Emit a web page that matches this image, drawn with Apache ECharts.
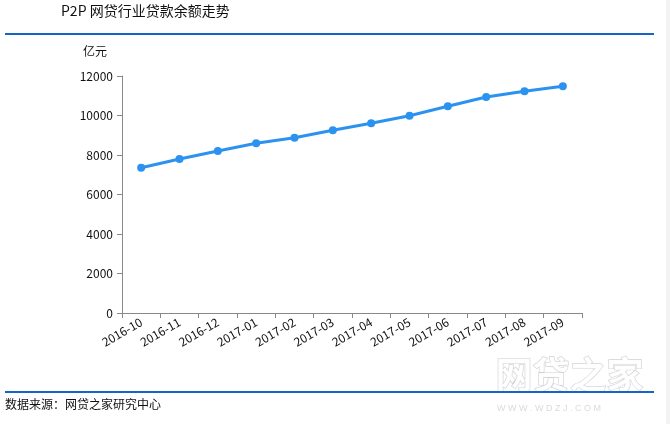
<!DOCTYPE html>
<html><head><meta charset="utf-8">
<script src="https://cdn.jsdelivr.net/npm/echarts@6/dist/echarts.min.js"></script>
<style>html,body{margin:0;padding:0;background:#fff;}#c{width:670px;height:424px;}</style>
</head><body><div id="c"></div>
<script>
var categories = ['2016-10','2016-11','2016-12','2017-01','2017-02','2017-03','2017-04','2017-05','2017-06','2017-07','2017-08','2017-09'];
var balance = [7357, 7797, 8203, 8592, 8876, 9250, 9605, 9990, 10466, 10937, 11225, 11478];
var yTicks = [0, 2000, 4000, 6000, 8000, 10000, 12000];
var titleText = 'P2P 网贷行业贷款余额走势';
var unitText = '亿元';
var sourceText = '数据来源：网贷之家研究中心';

var chart = echarts.init(document.getElementById('c'), null, {renderer:'canvas'});
var font = '"Microsoft YaHei","Noto Sans CJK SC",sans-serif';
chart.setOption({
  animation:false,
  backgroundColor:'#fff',
  grid:{left:122, top:76, width:460, height:237, containLabel:false},
  xAxis:{
    type:'category', data:categories, boundaryGap:true,
    axisLine:{lineStyle:{color:'#888', width:1}},
    axisTick:{show:true, alignWithLabel:false, length:5, lineStyle:{color:'#888'}},
    axisLabel:{rotate:30, color:'#111', fontSize:12, fontFamily:font, margin:8, interval:0}
  },
  yAxis:{
    type:'value', min:yTicks[0], max:yTicks[yTicks.length-1], interval:2000,
    axisLine:{show:true, lineStyle:{color:'#888', width:1}},
    axisTick:{show:true, length:5, lineStyle:{color:'#888'}},
    axisLabel:{color:'#111', fontSize:12, fontFamily:font, margin:9, formatter:function(v){return String(v);}},
    splitLine:{show:false}
  },
  series:[{
    type:'line', data:balance, smooth:false,
    symbol:'circle', symbolSize:8,
    lineStyle:{color:'#2b93ef', width:3},
    itemStyle:{color:'#2b93ef'}
  }],
  graphic:[
    {type:'rect', shape:{x:666, y:0, width:4, height:424}, style:{fill:'#f3f3f3'}, silent:true},
    {type:'text', left:61, top:4, style:{text:titleText, fill:'#111', font:'14px '+font}},
    {type:'rect', shape:{x:5, y:33, width:649, height:2}, style:{fill:'#1565c8'}},
    {type:'text', left:83, top:45, style:{text:unitText, fill:'#111', font:'12px '+font}},
    {type:'text', left:495, top:356, z:1, style:{text:'网贷之家', fill:'rgba(255,255,255,0.9)', stroke:'rgba(190,190,190,0.7)', lineWidth:1.2, font:'bold 37px '+font}},
    {type:'rect', shape:{x:5, y:391, width:649, height:2}, style:{fill:'#1565c8'}, z:2},
    {type:'text', left:497, top:404, z:3, style:{text:'W W W . W D Z J . C O M', fill:'rgba(215,215,215,0.9)', font:'9px sans-serif'}},
    {type:'text', left:5, top:398, z:3, style:{text:sourceText, fill:'#111', font:'12px '+font}}
  ]
});
</script></body></html>
